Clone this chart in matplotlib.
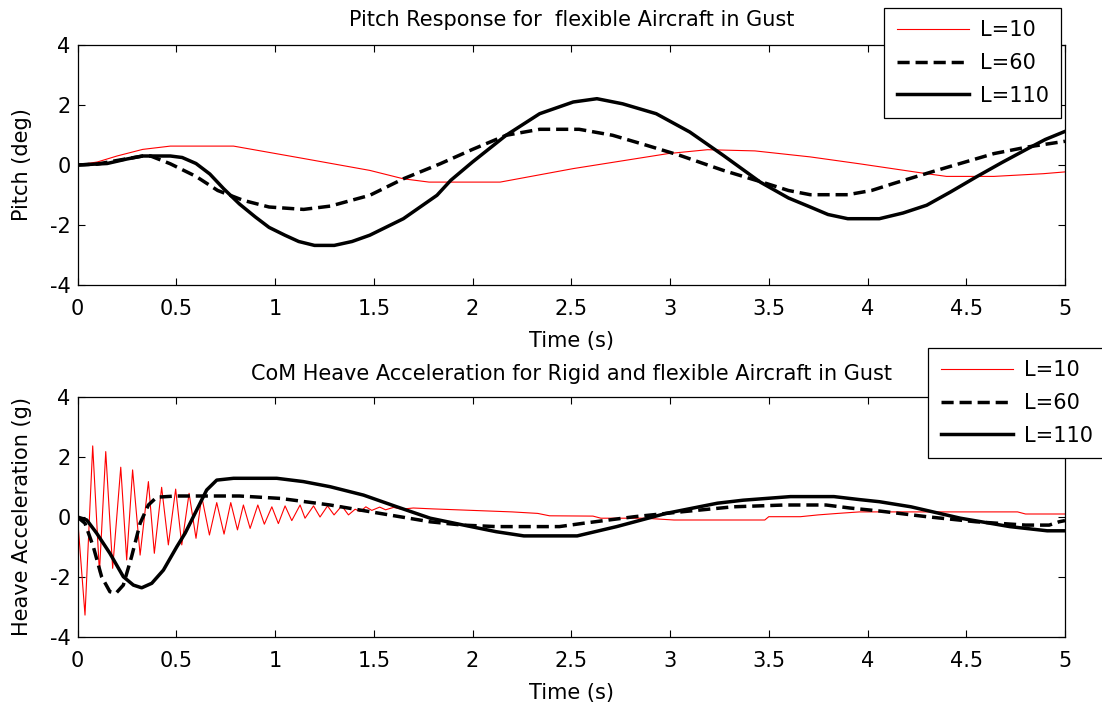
import numpy as np
import matplotlib
matplotlib.use("Agg")
import matplotlib.pyplot as plt

plt.rcParams['font.family'] = ['DejaVu Sans']

# ---- data ----
# Pitch response (deg)
t_p10 = [0, 0.1, 0.2, 0.33, 0.47, 0.79, 0.97, 1.15, 1.48, 1.65, 1.78, 2.14, 2.51,
         2.99, 3.19, 3.43, 3.71, 3.96, 4.30, 4.40, 4.64, 4.89, 5.0]
p10 = [0, 0.1, 0.3, 0.52, 0.63, 0.63, 0.42, 0.21, -0.18, -0.46, -0.57, -0.57, -0.12,
       0.38, 0.51, 0.47, 0.27, 0.04, -0.29, -0.38, -0.38, -0.29, -0.23]

t_p60 = [0, 0.1, 0.2, 0.33, 0.37, 0.47, 0.6, 0.71, 0.84, 0.97, 1.145, 1.28, 1.48,
         1.65, 1.836, 2.0, 2.17, 2.34, 2.54, 2.71, 2.88, 3.05, 3.27, 3.49, 3.6,
         3.71, 3.90, 4.02, 4.13, 4.35, 4.64, 4.81, 5.0]
p60 = [0, 0.03, 0.15, 0.3, 0.3, 0.04, -0.38, -0.85, -1.18, -1.4, -1.48, -1.37, -1.01,
       -0.46, 0.04, 0.52, 0.99, 1.19, 1.19, 0.99, 0.66, 0.32, -0.18, -0.62, -0.85,
       -0.99, -0.99, -0.85, -0.62, -0.18, 0.38, 0.6, 0.79]

t_p110 = [0, 0.15, 0.25, 0.33, 0.47, 0.53, 0.6, 0.67, 0.74, 0.82, 0.9, 0.97, 1.05,
          1.12, 1.2, 1.3, 1.39, 1.48, 1.65, 1.82, 1.89, 2.0, 2.17, 2.34, 2.51, 2.63,
          2.76, 2.93, 3.10, 3.27, 3.457, 3.6, 3.71, 3.8, 3.90, 4.06, 4.18, 4.30,
          4.42, 4.55, 4.68, 4.81, 4.9, 5.0]
p110 = [0, 0.05, 0.2, 0.3, 0.3, 0.25, 0.05, -0.3, -0.79, -1.3, -1.73, -2.08, -2.34,
        -2.55, -2.68, -2.68, -2.55, -2.34, -1.79, -1.01, -0.51, 0.1, 0.99, 1.71, 2.1,
        2.21, 2.04, 1.71, 1.1, 0.32, -0.57, -1.1, -1.4, -1.65, -1.79, -1.79, -1.6,
        -1.34, -0.9, -0.4, 0.08, 0.54, 0.85, 1.12]

# CoM heave acceleration (g)
t_h10 = [0, 0.038, 0.077, 0.111, 0.143, 0.178, 0.219, 0.249, 0.279, 0.317, 0.359,
         0.389, 0.426, 0.460, 0.497, 0.528, 0.565, 0.600, 0.629, 0.668, 0.705,
         0.742, 0.776, 0.810, 0.840, 0.874, 0.913, 0.946, 0.984, 1.017, 1.051,
         1.085, 1.127, 1.152, 1.195, 1.228, 1.266, 1.299, 1.338, 1.372, 1.406,
         1.431, 1.46, 1.49, 1.53, 1.56, 1.60, 1.64, 1.70, 1.80, 2.0, 2.2, 2.33,
         2.39, 2.61, 2.65, 2.87, 3.02, 3.48, 3.5, 3.66, 3.75, 3.85, 3.96, 4.76,
         4.8, 5.0]
h10 = [0, -3.27, 2.37, -1.85, 2.18, -1.71, 1.66, -1.43, 1.57, -1.27, 1.18,
       -1.21, 0.99, -0.93, 0.93, -0.93, 0.79, -0.71, 0.68, -0.6, 0.48,
       -0.57, 0.48, -0.43, 0.4, -0.38, 0.4, -0.24, 0.34, -0.22, 0.37,
       -0.12, 0.4, -0.04, 0.37, 0.0, 0.37, 0.07, 0.37, 0.07, 0.26,
       0.18, 0.34, 0.22, 0.33, 0.24, 0.32, 0.26, 0.3, 0.27, 0.22, 0.17, 0.12,
       0.04, 0.03, -0.04, -0.04, -0.1, -0.1, 0.01, 0.01, 0.07, 0.12, 0.17, 0.17,
       0.1, 0.1]

t_h60 = [0, 0.038, 0.080, 0.122, 0.164, 0.195, 0.232, 0.274, 0.317, 0.359, 0.401,
         0.5, 0.82, 1.026, 1.279, 1.532, 1.786, 1.95, 2.12, 2.44, 2.56, 2.82, 3.07,
         3.32, 3.58, 3.79, 3.91, 4.06, 4.30, 4.55, 4.80, 4.92, 4.97, 5.0]
h60 = [0, -0.21, -0.99, -1.99, -2.49, -2.54, -2.27, -1.32, -0.21, 0.4, 0.66,
       0.7, 0.7, 0.62, 0.4, 0.12, -0.16, -0.27, -0.32, -0.32, -0.21, 0.01, 0.18,
       0.34, 0.4, 0.4, 0.3, 0.2, 0.01, -0.16, -0.27, -0.27, -0.16, -0.12]

t_h110 = [0, 0.047, 0.097, 0.164, 0.232, 0.283, 0.325, 0.376, 0.435, 0.503, 0.545,
          0.595, 0.654, 0.705, 0.79, 1.009, 1.144, 1.279, 1.448, 1.617, 1.786,
          1.955, 2.12, 2.26, 2.53, 2.73, 2.98, 3.24, 3.37, 3.49, 3.61, 3.83, 3.96,
          4.06, 4.22, 4.47, 4.72, 4.91, 5.0]
h110 = [0, -0.1, -0.54, -1.21, -1.99, -2.27, -2.36, -2.21, -1.77, -0.99, -0.54,
        0.12, 0.9, 1.23, 1.29, 1.29, 1.18, 1.01, 0.73, 0.34, -0.04,
        -0.27, -0.49, -0.63, -0.63, -0.32, 0.12, 0.46, 0.56, 0.62, 0.68, 0.68, 0.58,
        0.51, 0.34, -0.04, -0.32, -0.46, -0.46]

labels = ['L=10', 'L=60', 'L=110']
x_ticks = [0, 0.5, 1, 1.5, 2, 2.5, 3, 3.5, 4, 4.5, 5]
x_tick_labels = ['0', '0.5', '1', '1.5', '2', '2.5', '3', '3.5', '4', '4.5', '5']
y_ticks = [-4, -2, 0, 2, 4]
y_tick_labels = ['-4', '-2', '0', '2', '4']

FS = 15
W, H = 1102, 707
fig = plt.figure(figsize=(W / 100, H / 100), dpi=100)

ax1 = fig.add_axes([77.5 / W, 1 - 285 / H, 987.5 / W, 240 / H])
ax2 = fig.add_axes([77.5 / W, 1 - 637 / H, 987.5 / W, 240 / H])


def style_axes(ax, title, ylabel, title_pad):
    ax.set_xlim(0, 5)
    ax.set_ylim(-4, 4)
    ax.set_xticks(x_ticks)
    ax.set_xticklabels(x_tick_labels)
    ax.set_yticks(y_ticks)
    ax.set_yticklabels(y_tick_labels)
    ax.tick_params(direction='in', top=True, right=True, length=5, width=0.8,
                   labelsize=FS, pad=5)
    ax.tick_params(axis='x', pad=10)
    for s in ax.spines.values():
        s.set_linewidth(0.9)
    ax.set_title(title, fontsize=FS, pad=title_pad)
    ax.set_xlabel('Time (s)', fontsize=FS, labelpad=9)
    ax.set_ylabel(ylabel, fontsize=FS)
    ax.yaxis.set_label_coords(-0.046, 0.5)


dash = (3.5, 1.7)

ax1.plot(t_p10, p10, color='red', lw=0.8, label=labels[0])
ax1.plot(t_p60, p60, color='black', lw=2.5, dashes=dash, label=labels[1])
ax1.plot(t_p110, p110, color='black', lw=2.5, label=labels[2])
style_axes(ax1, 'Pitch Response for  flexible Aircraft in Gust', 'Pitch (deg)', 14)

ax2.plot(t_h10, h10, color='red', lw=0.8, label=labels[0])
ax2.plot(t_h60, h60, color='black', lw=2.5, dashes=dash, label=labels[1])
ax2.plot(t_h110, h110, color='black', lw=2.5, label=labels[2])
style_axes(ax2, 'CoM Heave Acceleration for Rigid and flexible Aircraft in Gust',
           'Heave Acceleration (g)', 12)

leg_kw = dict(loc='upper left', bbox_transform=fig.transFigure, fontsize=FS,
              frameon=True, fancybox=False, framealpha=1, edgecolor='black',
              handlelength=3.5, handletextpad=0.5, labelspacing=0.6,
              borderpad=0.6, borderaxespad=0)
leg1 = ax1.legend(bbox_to_anchor=(884 / W, 1 - 8 / H), **leg_kw)
leg2 = ax2.legend(bbox_to_anchor=(928 / W, 1 - 348 / H), **leg_kw)
for lg in (leg1, leg2):
    lg.get_frame().set_linewidth(0.9)
    lg.set_zorder(10)

fig.savefig('out.png', dpi=100)
